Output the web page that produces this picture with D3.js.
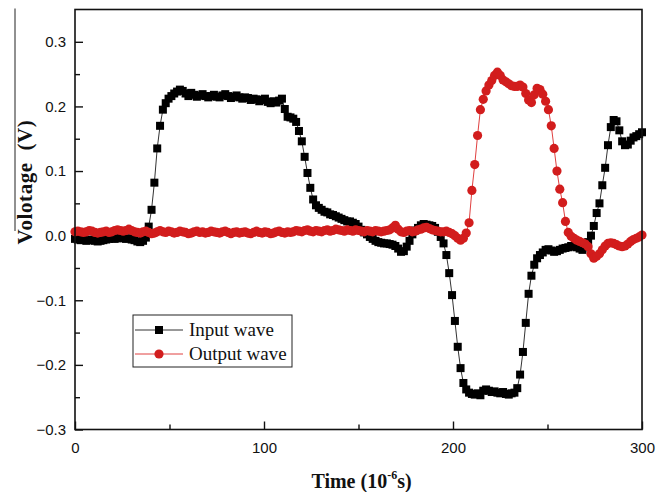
<!DOCTYPE html>
<html>
<head>
<meta charset="utf-8">
<script src="https://cdn.jsdelivr.net/npm/d3@7"></script>
<style>
  html, body { margin: 0; padding: 0; background: #fff; }
  svg { display: block; }
</style>
</head>
<body>
<script>
// ---- Data (time in 10^-6 s, voltage in V) ----
const times = [
  0,1.5,3,4.5,6,7.5,9,10.5,12,13.5,
  15,16.5,18,19.5,21,22.5,24,25.5,27,28.5,
  30,31.5,33,34.5,36,37.5,39,40.5,42,43.5,
  45,46.5,48,49.5,51,52.5,54,55.5,57,58.5,
  60,61.5,63,64.5,66,67.5,69,70.5,72,73.5,
  75,76.5,78,79.5,81,82.5,84,85.5,87,88.5,
  90,91.5,93,94.5,96,97.5,99,100.5,102,103.5,
  105,106.5,108,109.5,111,112.5,114,115.5,117,118.5,
  120,121.5,123,124.5,126,127.5,129,130.5,132,133.5,
  135,136.5,138,139.5,141,142.5,144,145.5,147,148.5,
  150,151.5,153,154.5,156,157.5,159,160.5,162,163.5,
  165,166.5,168,169.5,171,172.5,174,175.5,177,178.5,
  180,181.5,183,184.5,186,187.5,189,190.5,192,193.5,
  195,196.5,198,199.5,201,202.5,204,205.5,207,208.5,
  210,211.5,213,214.5,216,217.5,219,220.5,222,223.5,
  225,226.5,228,229.5,231,232.5,234,235.5,237,238.5,
  240,241.5,243,244.5,246,247.5,249,250.5,252,253.5,
  255,256.5,258,259.5,261,262.5,264,265.5,267,268.5,
  270,271.5,273,274.5,276,277.5,279,280.5,282,283.5,
  285,286.5,288,289.5,291,292.5,294,295.5,297,298.5,
  300
];

const inputWave = [
  -0.005,-0.006,-0.007,-0.006,-0.008,-0.007,-0.006,-0.008,-0.009,-0.008,
  -0.007,-0.006,-0.005,-0.004,-0.005,-0.004,-0.003,-0.004,-0.005,-0.004,
  -0.006,-0.007,-0.009,-0.010,-0.008,-0.003,0.014,0.040,0.082,0.135,
  0.170,0.195,0.205,0.212,0.216,0.220,0.223,0.226,0.224,0.220,
  0.216,0.221,0.218,0.215,0.217,0.219,0.216,0.214,0.216,0.218,
  0.215,0.214,0.217,0.219,0.216,0.213,0.215,0.217,0.214,0.212,
  0.214,0.213,0.210,0.212,0.211,0.208,0.210,0.212,0.207,0.205,
  0.208,0.206,0.209,0.212,0.196,0.184,0.183,0.181,0.176,0.162,
  0.146,0.122,0.097,0.074,0.056,0.047,0.043,0.040,0.037,0.036,
  0.033,0.032,0.030,0.028,0.026,0.024,0.022,0.022,0.020,0.018,
  0.014,0.009,0.005,0.002,-0.002,-0.005,-0.008,-0.010,-0.011,-0.012,
  -0.012,-0.013,-0.014,-0.016,-0.020,-0.025,-0.024,-0.017,-0.008,0.002,
  0.008,0.012,0.016,0.018,0.017,0.016,0.015,0.012,0.006,-0.002,
  -0.012,-0.030,-0.058,-0.092,-0.132,-0.172,-0.205,-0.228,-0.238,-0.243,
  -0.245,-0.246,-0.244,-0.247,-0.240,-0.238,-0.240,-0.242,-0.241,-0.243,
  -0.244,-0.242,-0.245,-0.246,-0.244,-0.243,-0.236,-0.215,-0.180,-0.135,
  -0.090,-0.062,-0.045,-0.035,-0.030,-0.026,-0.022,-0.021,-0.023,-0.025,
  -0.024,-0.022,-0.020,-0.019,-0.018,-0.016,-0.017,-0.018,-0.020,-0.022,
  -0.018,-0.010,0.000,0.015,0.035,0.050,0.078,0.105,0.140,0.168,
  0.179,0.177,0.163,0.146,0.140,0.141,0.147,0.152,0.154,0.157,
  0.160
];

const outputWave = [
  0.006,0.007,0.006,0.005,0.006,0.008,0.007,0.005,0.004,0.005,
  0.006,0.007,0.005,0.006,0.008,0.009,0.008,0.007,0.008,0.010,
  0.008,0.006,0.005,0.004,0.006,0.007,0.005,0.003,0.004,0.006,
  0.008,0.006,0.005,0.007,0.006,0.004,0.005,0.007,0.006,0.005,
  0.003,0.004,0.006,0.007,0.005,0.006,0.004,0.005,0.007,0.006,
  0.005,0.004,0.006,0.007,0.005,0.003,0.005,0.006,0.004,0.005,
  0.006,0.004,0.003,0.005,0.007,0.005,0.004,0.006,0.005,0.003,
  0.004,0.006,0.007,0.005,0.004,0.006,0.005,0.006,0.008,0.007,
  0.006,0.008,0.009,0.007,0.006,0.008,0.007,0.006,0.008,0.009,
  0.007,0.008,0.010,0.009,0.008,0.007,0.009,0.008,0.007,0.009,
  0.008,0.007,0.006,0.008,0.007,0.006,0.008,0.007,0.006,0.007,
  0.008,0.009,0.012,0.016,0.010,0.006,0.005,0.007,0.008,0.006,
  0.007,0.009,0.010,0.012,0.013,0.011,0.009,0.008,0.007,0.006,
  0.006,0.007,0.005,0.003,0.000,-0.004,-0.007,-0.004,0.004,0.020,
  0.070,0.110,0.155,0.195,0.211,0.224,0.233,0.240,0.248,0.253,
  0.248,0.241,0.238,0.235,0.232,0.231,0.231,0.233,0.230,0.220,
  0.210,0.206,0.218,0.228,0.226,0.219,0.208,0.195,0.170,0.135,
  0.100,0.072,0.051,0.022,0.005,-0.001,-0.004,-0.007,-0.009,-0.011,
  -0.013,-0.017,-0.028,-0.035,-0.032,-0.028,-0.022,-0.016,-0.012,-0.011,
  -0.012,-0.014,-0.016,-0.017,-0.016,-0.013,-0.009,-0.006,-0.004,-0.002,
  0.001
];

const xMajorTicks = [0, 100, 200, 300];
const xMinorTicks = [50, 150, 250];
const yMajorTicks = [-0.3, -0.2, -0.1, 0.0, 0.1, 0.2, 0.3];
const yMinorTicks = [-0.25, -0.15, -0.05, 0.05, 0.15, 0.25];
const seriesNames = ["Input wave", "Output wave"];
const seriesColors = ["#000000", "#d21d1d"];

// ---- Layout ----
const W = 668, H = 492;
const margin = { left: 75, right: 26, top: 9.5, bottom: 62.5 };
const x0 = margin.left, x1 = W - margin.right;
const y0 = margin.top, y1 = H - margin.bottom;

const svg = d3.select("body").append("svg")
  .attr("width", W).attr("height", H);

const x = d3.scaleLinear().domain([0, 300]).range([x0, x1]);
const y = d3.scaleLinear().domain([-0.3, 0.35]).range([y1, y0]);

// Axes (ticks pointing inward)
const tickFont = "'Liberation Sans', Arial, sans-serif";

const xAxis = svg.append("g").attr("transform", `translate(0,${y1})`)
  .call(d3.axisBottom(x).tickValues(xMajorTicks).tickSizeInner(-8).tickSizeOuter(0).tickPadding(13).tickFormat(d3.format("d")));
const xAxisMinor = svg.append("g").attr("transform", `translate(0,${y1})`)
  .call(d3.axisBottom(x).tickValues(xMinorTicks).tickSizeInner(-5).tickSizeOuter(0).tickFormat(""));

const yAxis = svg.append("g").attr("transform", `translate(${x0},0)`)
  .call(d3.axisLeft(y).tickValues(yMajorTicks).tickSizeInner(-8).tickSizeOuter(0).tickPadding(9).tickFormat(d3.format(".1f")));
const yAxisMinor = svg.append("g").attr("transform", `translate(${x0},0)`)
  .call(d3.axisLeft(y).tickValues(yMinorTicks).tickSizeInner(-5).tickSizeOuter(0).tickFormat(""));

[xAxis, xAxisMinor, yAxis, yAxisMinor].forEach(g => {
  g.select(".domain").remove();
  g.selectAll(".tick line").attr("stroke", "#111").attr("stroke-width", 1.4);
  g.selectAll(".tick text").attr("font-family", tickFont).attr("font-size", 15).attr("fill", "#111");
});

// Data lines and markers
const data = [inputWave, outputWave].map((vals, k) =>
  vals.map((v, i) => ({ t: times[i], v: v })));

const line = d3.line().x(d => x(d.t)).y(d => y(d.v));

const plot = svg.append("g");

// Input wave
plot.append("path").datum(data[0])
  .attr("d", line).attr("fill", "none")
  .attr("stroke", "#333").attr("stroke-width", 1);
plot.append("g").selectAll("rect").data(data[0]).join("rect")
  .attr("x", d => x(d.t) - 4).attr("y", d => y(d.v) - 4)
  .attr("width", 8).attr("height", 8)
  .attr("fill", seriesColors[0]);

// Output wave
plot.append("path").datum(data[1])
  .attr("d", line).attr("fill", "none")
  .attr("stroke", "#e04040").attr("stroke-width", 1);
plot.append("g").selectAll("circle").data(data[1]).join("circle")
  .attr("cx", d => x(d.t)).attr("cy", d => y(d.v)).attr("r", 4.6)
  .attr("fill", seriesColors[1]);

// Frame
svg.append("rect")
  .attr("x", x0).attr("y", y0).attr("width", x1 - x0).attr("height", y1 - y0)
  .attr("fill", "none").attr("stroke", "#111").attr("stroke-width", 1.6);

// Axis titles
const titleFont = "'Liberation Serif', 'Times New Roman', serif";
const xt = svg.append("text")
  .attr("x", (x0 + x1) / 2 + 3).attr("y", 488)
  .attr("text-anchor", "middle")
  .attr("font-family", titleFont).attr("font-weight", "bold").attr("font-size", 20)
  .attr("fill", "#111");
xt.append("tspan").text("Time (10");
xt.append("tspan").attr("font-size", 12).attr("dy", -9).text("-6");
xt.append("tspan").attr("dy", 9).text("s)");

svg.append("text")
  .attr("transform", `translate(32,182) rotate(-90)`)
  .attr("text-anchor", "middle")
  .attr("font-family", titleFont).attr("font-weight", "bold").attr("font-size", 21)
  .attr("letter-spacing", 0.6)
  .attr("xml:space", "preserve")
  .attr("fill", "#111")
  .text("Volotage  (V)");

// thin vertical rule that runs along the y title in the original scan
svg.append("line")
  .attr("x1", 15).attr("x2", 15).attr("y1", y0 - 1).attr("y2", 231)
  .attr("stroke", "#222").attr("stroke-width", 1);

// Legend
const lg = svg.append("g");
lg.append("rect")
  .attr("x", 133).attr("y", 315).attr("width", 159).attr("height", 52)
  .attr("fill", "#fff").attr("stroke", "#222").attr("stroke-width", 1);
seriesNames.forEach((name, k) => {
  const ly = 330 + k * 24;
  lg.append("line").attr("x1", 135).attr("x2", 183).attr("y1", ly).attr("y2", ly)
    .attr("stroke", k === 0 ? "#333" : "#e04040").attr("stroke-width", 1);
  if (k === 0) {
    lg.append("rect").attr("x", 155).attr("y", ly - 4).attr("width", 8).attr("height", 8)
      .attr("fill", seriesColors[0]);
  } else {
    lg.append("circle").attr("cx", 159).attr("cy", ly).attr("r", 4.6)
      .attr("fill", seriesColors[1]);
  }
  lg.append("text").attr("x", 189).attr("y", ly + 6)
    .attr("font-family", titleFont).attr("font-size", 19).attr("fill", "#111")
    .text(name);
});
</script>
</body>
</html>
